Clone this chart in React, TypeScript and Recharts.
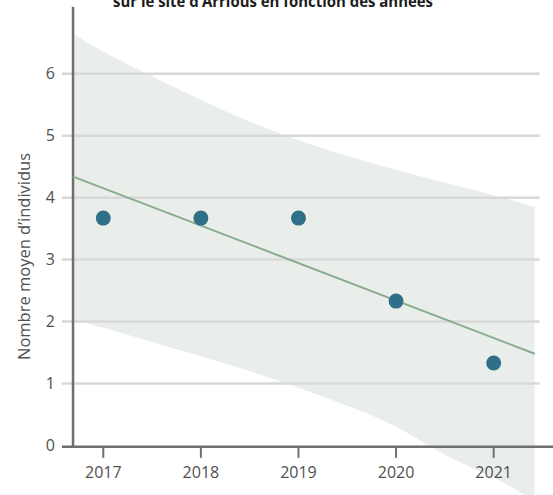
import {
  Area,
  ComposedChart,
  Label,
  Line,
  ReferenceLine,
  Scatter,
  XAxis,
  YAxis,
} from 'recharts'

const years = [2017, 2018, 2019, 2020, 2021]
const meanCounts = [3.67, 3.67, 3.67, 2.33, 1.33]

const fitYears = [2016.69, 2021.42]
const fitValues = [4.34, 1.48]

const bandYears = [2016.69, 2017, 2017.5, 2018, 2018.5, 2019, 2019.5, 2020, 2020.5, 2021, 2021.42]
const bandLow = [2.02, 1.9, 1.67, 1.44, 1.2, 0.93, 0.64, 0.3, -0.15, -0.52, -0.9]
const bandHigh = [6.64, 6.36, 5.96, 5.58, 5.23, 4.93, 4.67, 4.45, 4.24, 4.04, 3.85]

const yTicks = [0, 1, 2, 3, 4, 5, 6]

const title = 'sur le site d’Arrious en fonction des années'
const yLabel = 'Nombre moyen d’individus'

const X_MIN = 2016.577
const X_MAX = 2021.608
const AXIS_X = 2016.69
const AXIS_Y = -0.02
const GRID_END = 2021.47

const points = years.map((year, i) => ({ year, value: meanCounts[i] }))
const fit = fitYears.map((year, i) => ({ year, fit: fitValues[i] }))
const band = bandYears.map((year, i) => ({ year, band: [bandLow[i], bandHigh[i]] }))

const textColor = '#505050'

export default function App() {
  return (
    <div style={{ position: 'absolute', left: 0, top: 0, width: 553, height: 495, fontFamily: '"Open Sans", sans-serif' }}>
      <ComposedChart width={553} height={495} margin={{ top: 0, right: 0, bottom: 0, left: 0 }}>
        <XAxis dataKey="year" type="number" domain={[X_MIN, X_MAX]} allowDataOverflow hide />
        <YAxis
          type="number"
          domain={[-0.8, 7.19]}
          allowDataOverflow
          ticks={yTicks}
          width={62}
          axisLine={false}
          tickLine={false}
          tickSize={0}
          tickMargin={7}
          tick={{ fill: textColor, fontSize: 16 }}
        >
          <Label
            content={({ viewBox }: any) => {
              const cy = viewBox.y + viewBox.height / 2 + 9
              return (
                <text
                  x={23}
                  y={cy}
                  transform={`rotate(-90, 23, ${cy})`}
                  textAnchor="middle"
                  dominantBaseline="central"
                  fill={textColor}
                  fontSize={16.5}
                >
                  {yLabel}
                </text>
              )
            }}
          />
        </YAxis>

        <Area
          data={band}
          dataKey="band"
          type="natural"
          stroke="none"
          fill="#e9eeeb"
          fillOpacity={1}
          isAnimationActive={false}
        />

        {yTicks.slice(1).map((t) => (
          <ReferenceLine
            key={`grid-${t}`}
            segment={[{ x: X_MIN, y: t }, { x: GRID_END, y: t }]}
            stroke="#d8d8d8"
            strokeWidth={2.5}
          />
        ))}

        <ReferenceLine y={AXIS_Y} stroke="#6f6f6f" strokeWidth={2.5} />
        <ReferenceLine
          segment={[{ x: AXIS_X, y: AXIS_Y }, { x: AXIS_X, y: 7.08 }]}
          stroke="#6f6f6f"
          strokeWidth={2.5}
        />
        {years.map((year) => (
          <ReferenceLine
            key={`tick-${year}`}
            segment={[{ x: year, y: -0.04 }, { x: year, y: -0.2 }]}
            stroke="#6f6f6f"
            strokeWidth={2}
            label={{ value: String(year), position: 'bottom', offset: 9, fill: textColor, fontSize: 16 }}
          />
        ))}

        <Line
          data={fit}
          dataKey="fit"
          type="linear"
          stroke="#8aab8c"
          strokeWidth={2}
          dot={false}
          activeDot={false}
          isAnimationActive={false}
        />
        <Scatter
          data={points}
          dataKey="value"
          fill="#2f7088"
          shape={(p: any) => <circle cx={p.cx} cy={p.cy} r={7.5} fill="#2f7088" />}
          isAnimationActive={false}
        />
      </ComposedChart>
      <svg width={553} height={20} style={{ position: 'absolute', left: 0, top: 0 }}>
        <text
          x={273}
          y={7}
          textAnchor="middle"
          fontWeight={700}
          fontSize={16}
          fill="#1c1c1c"
          textLength={320}
          lengthAdjust="spacingAndGlyphs"
        >
          {title}
        </text>
      </svg>
    </div>
  )
}
